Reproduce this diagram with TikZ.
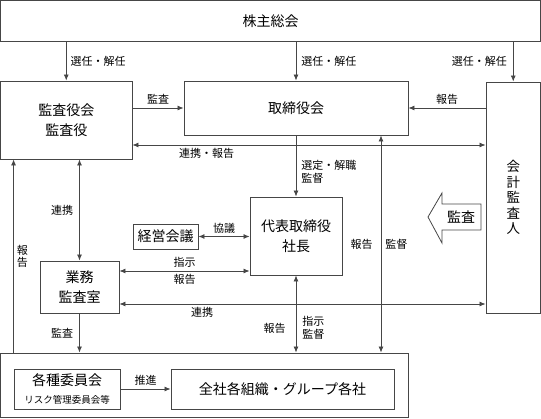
\documentclass[tikz,border=0pt]{standalone}
\usepackage{fontspec}
\setmainfont{Noto Sans CJK JP}
\usepackage{tikz}
\usetikzlibrary{arrows.meta}
\definecolor{trait}{RGB}{70,70,70}
\tikzstyle{boite} = [draw=trait,line width=0.9pt,inner sep=0pt,align=center,font=\fontsize{14}{20}\selectfont]
\tikzstyle{fleche} = [-{Latex[length=6pt,width=5pt]},draw=trait,line width=0.8pt]
\tikzstyle{fleche2} = [{Latex[length=6pt,width=5pt]}-{Latex[length=6pt,width=5pt]},draw=trait,line width=0.8pt]
\tikzstyle{etiq} = [font=\fontsize{11}{13}\selectfont,inner sep=1pt,align=left]

\begin{document}
\begin{tikzpicture}[x=1pt,y=-1pt]
	\useasboundingbox (0,0) rectangle (541,419);

	% boites
	\node[boite,minimum width=539.5pt,minimum height=40.5pt] (AG) at (270.5,20.75) {株主総会};
	\node[boite,minimum width=131.5pt,minimum height=78pt] (KY) at (66.25,120) {監査役会\\監査役};
	\node[boite,minimum width=224pt,minimum height=54pt] (TR) at (296,108) {取締役会};
	\node[boite,minimum width=54.5pt,minimum height=231pt,font=\fontsize{13.5}{15.5}\selectfont] (KK) at (513.25,197.5) {会\\計\\監\\査\\人};
	\node[boite,minimum width=92pt,minimum height=78pt] (DH) at (296,236) {代表取締役\\社長};
	\node[boite,minimum width=65pt,minimum height=25pt] (KE) at (165.5,236.5) {経営会議};
	\node[boite,minimum width=79pt,minimum height=52pt] (GY) at (79.5,287) {業務\\監査室};
	\node[boite,minimum width=407.5pt,minimum height=64pt] (GR) at (204.25,385) {};
	\node[boite,minimum width=106pt,minimum height=40pt] (II) at (67,389) {各種委員会\\[-2pt]{\fontsize{9.5}{11}\selectfont リスク管理委員会等}};
	\node[boite,minimum width=223pt,minimum height=40pt] (ZS) at (282.5,389) {全社各組織・グループ各社};

	% fleche監査
	\draw[draw=trait,line width=0.8pt] (428,217) -- (442,193) -- (442,204) -- (481,204) -- (481,230) -- (442,230) -- (442,243) -- cycle;
	\node[font=\fontsize{14}{16}\selectfont] (KF) at (461,217) {監査};

	\coordinate (KT) at (381,0);

	\draw[fleche] (KY.north |- AG.south) -- node[right=3pt,etiq] {選任・解任} (KY.north);
	\draw[fleche] (TR.north |- AG.south) -- node[right=4pt,etiq] {選任・解任} (TR.north);
	\draw[fleche] (KK.north |- AG.south) -- node[left=5pt,etiq] {選任・解任} (KK.north);

	\draw[fleche] (KY.east |- TR.west) -- node[above=2pt,etiq] {監査} (TR.west);
	\draw[fleche] (KK.west |- TR.east) -- node[above=2pt,etiq] {報告} (TR.east);
	\draw[fleche2] (KY.east |- 0,145) -- node[pos=.21,below=2pt,etiq] {連携・報告} (KK.west |- 0,145);

	\draw[fleche] (TR.south) -- node[pos=.6,right=4pt,etiq] {選定・解職\\監督} (DH.north);
	\draw[fleche2] (KT |- TR.south) -- node[left=7pt,etiq] {報告} node[right=3pt,etiq] {監督} (KT |- GR.north);

	\draw[fleche2] (GY.north |- KY.south) -- node[left=5pt,etiq] {連携} (GY.north);
	\draw[fleche] (II.west |- GR.north) -- node[right=2pt,etiq,font=\fontsize{11}{12}\selectfont] {報\\告} (II.west |- KY.south);

	\draw[fleche2] (KE.east) -- node[above=2pt,etiq] {協議} (DH.west |- KE.east);
	\draw[fleche2] (GY.east |- 0,271) -- node[above=2pt,etiq] {指示} node[below=2pt,etiq] {報告} (DH.west |- 0,271);
	\draw[fleche2] (GY.east |- 0,304) -- node[pos=.226,below=2pt,etiq] {連携} (KK.west |- 0,304);

	\draw[fleche] (GY.south) -- node[left=5pt,etiq] {監査} (GY.south |- GR.north);
	\draw[fleche2] (DH.south) -- node[pos=.68,left=9pt,etiq] {報告} node[pos=.68,right=5pt,etiq] {指示\\監督} (DH.south |- GR.north);

	\draw[fleche] (II.east) -- node[above=2pt,etiq] {推進} (ZS.west);

\end{tikzpicture}
\end{document}
